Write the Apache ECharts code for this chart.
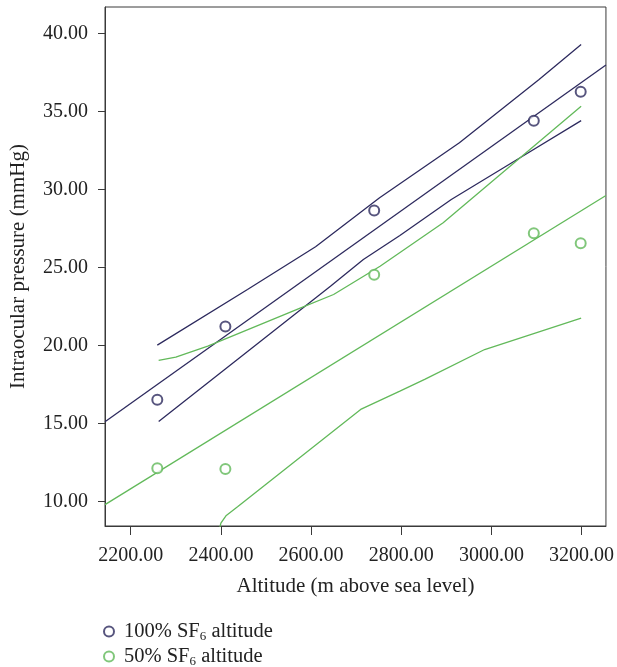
<!DOCTYPE html>
<html>
<head>
<meta charset="utf-8">
<script src="https://cdn.jsdelivr.net/npm/echarts@6/dist/echarts.min.js"></script>
<style>
	html,body{margin:0;padding:0;background:#fff;}
	#chart{width:617px;height:667px;}
</style>
</head>
<body>
<div id="chart"></div>
<script>
// altitude of each measurement (m)
var altitudes = [2259, 2410, 2740, 3094, 3198];
// intraocular pressure, mmHg
var iop100 = [16.52, 21.22, 28.65, 34.42, 36.28];
var iop50 = [12.12, 12.07, 24.53, 27.20, 26.56];

// regression lines (read at the plot edges)
var fit100 = [[2143, 15.11], [3254, 37.99]];
var fit50 = [[2143, 9.79], [3254, 29.62]];

// confidence bands
var upper100 = [[2259, 20.02], [2459, 23.59], [2610, 26.33], [2752, 29.47], [2929, 33.0], [3105, 37.05], [3199, 39.3]];
var lower100 = [[2262, 15.13], [2643, 23.8], [2716, 25.51], [2797, 27.05], [2911, 29.36], [3069, 32.14], [3199, 34.42]];
var upper50 = [[2262, 19.04], [2300, 19.25], [2371, 19.96], [2569, 22.31], [2650, 23.27], [2753, 25.08], [2893, 27.87], [3199, 35.34]];
var lower50 = [[2395, 8.0], [2400, 8.6], [2412, 9.1], [2437, 9.65], [2710, 15.9], [2797, 17.07], [2852, 17.82], [2985, 19.74], [3199, 21.75]];

var xTicks = [2200, 2400, 2600, 2800, 3000, 3200];
var yTicks = [10, 15, 20, 25, 30, 35, 40];

var NAVY = '#2d2a5e';
var GREEN = '#62b95a';
var AXIS = '#3a3a3a';
var FONT = 'Liberation Serif';

function pairs(xs, ys){
	var out = [];
	for (var i = 0; i < xs.length; i++) {
		out.push([xs[i], ys[i]]);
	}
	return out;
}

function lineSeries(name, data, color){
	return {
		name: name,
		type: 'line',
		data: data,
		showSymbol: false,
		symbol: 'none',
		silent: true,
		lineStyle: {color: color, width: 1.3},
		z: 1
	};
}

var myChart = echarts.init(document.getElementById('chart'));
myChart.setOption({
	animation: false,
	textStyle: {fontFamily: FONT},
	grid: {
		left: 103, right: 10, top: 7, bottom: 141,
		show: true,
		borderColor: AXIS,
		borderWidth: 1
	},
	legend: {
		orient: 'vertical',
		left: 103,
		top: 621,
		height: 60,
		padding: 0,
		itemWidth: 20,
		itemHeight: 10,
		itemGap: 3,
		data: ['100% SF6 altitude', '50% SF6 altitude'],
		formatter: function (name) {
			return name.replace('SF6', 'SF{sub|6}');
		},
		textStyle: {
			fontFamily: FONT,
			fontSize: 20.5,
			color: '#222',
			rich: {
				sub: {fontFamily: FONT, fontSize: 13, verticalAlign: 'bottom', padding: [10, 0, 0, 0]}
			}
		}
	},
	xAxis: {
		type: 'value',
		min: 2143,
		max: 3254,
		name: 'Altitude (m above sea level)',
		nameLocation: 'middle',
		nameGap: 50,
		nameTextStyle: {fontFamily: FONT, fontSize: 21, color: '#222'},
		splitLine: {show: false},
		axisLine: {lineStyle: {color: AXIS, width: 1}},
		axisTick: {customValues: xTicks, length: 9, lineStyle: {color: AXIS}},
		axisLabel: {
			customValues: xTicks,
			margin: 20,
			fontFamily: FONT,
			fontSize: 20,
			color: '#222',
			formatter: function (v) { return v.toFixed(2); }
		}
	},
	yAxis: {
		type: 'value',
		min: 8.42,
		max: 41.71,
		name: 'Intraocular pressure (mmHg)',
		nameLocation: 'middle',
		nameGap: 76,
		nameTextStyle: {fontFamily: FONT, fontSize: 21, color: '#222'},
		splitLine: {show: false},
		axisLine: {lineStyle: {color: AXIS, width: 1}},
		axisTick: {customValues: yTicks, length: 7, lineStyle: {color: AXIS}},
		axisLabel: {
			customValues: yTicks,
			margin: 17,
			fontFamily: FONT,
			fontSize: 20,
			color: '#222',
			formatter: function (v) { return v.toFixed(2); }
		}
	},
	series: [
		lineSeries('fit100', fit100, NAVY),
		lineSeries('upper100', upper100, NAVY),
		lineSeries('lower100', lower100, NAVY),
		lineSeries('fit50', fit50, GREEN),
		lineSeries('upper50', upper50, GREEN),
		lineSeries('lower50', lower50, GREEN),
		{
			name: '100% SF6 altitude',
			type: 'scatter',
			symbol: 'emptyCircle',
			symbolSize: 10,
			data: pairs(altitudes, iop100),
			itemStyle: {color: NAVY, borderWidth: 1.3},
			z: 3
		},
		{
			name: '50% SF6 altitude',
			type: 'scatter',
			symbol: 'emptyCircle',
			symbolSize: 10,
			data: pairs(altitudes, iop50),
			itemStyle: {color: GREEN, borderWidth: 1.3},
			z: 3
		}
	]
});
</script>
</body>
</html>
